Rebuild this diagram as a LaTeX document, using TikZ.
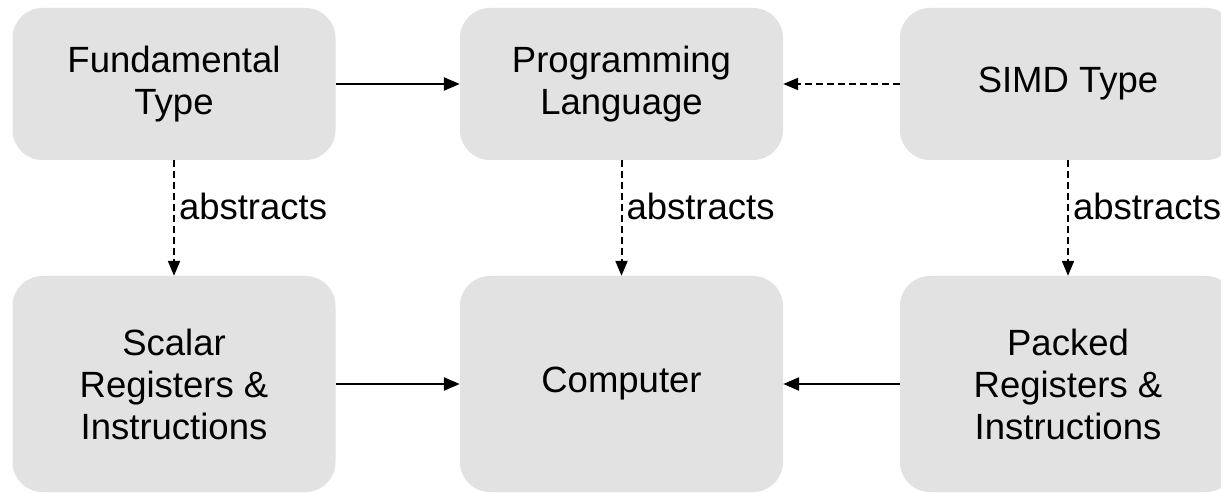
\documentclass[tikz,border=0pt]{standalone}
\usepackage{fontspec}
\setmainfont{Liberation Sans}
\usetikzlibrary{arrows.meta}
\definecolor{boxgray}{RGB}{225,226,225}
\tikzset{
    block/.style={fill=boxgray,rounded corners=30pt,minimum width=323pt,
        inner sep=0pt,align=center,font=\fontsize{36.5}{42}\selectfont},
    link/.style={line width=2.4pt,-{Triangle[length=16pt,width=13pt]}},
    weaklink/.style={line width=2pt,-{Triangle[length=15pt,width=12pt]},dash pattern=on 7pt off 4pt},
    tag/.style={right,inner sep=4pt,font=\fontsize{36.5}{42}\selectfont}
}
\begin{document}
\begin{tikzpicture}[x=1pt,y=-1pt]
        \fill[white] (0,0) rectangle (1221,494);
        \clip (0,0) rectangle (1221,494);
        % types (top row)
        \node[block,minimum height=152pt] (ftype) at (174,84) {Fundamental\\Type};
        \node[block,minimum height=152pt] (plang) at (621.5,84) {Programming\\Language};
        \node[block,minimum height=152pt,minimum width=336pt] (simd) at (1068,84) {SIMD Type};
        % hardware (bottom row)
        \node[block,minimum height=216pt] (scalar) at (174,384) {Scalar\\Registers \&\\Instructions};
        \node[block,minimum height=216pt] (comp) at (621.5,384) {Computer};
        \node[block,minimum height=216pt,minimum width=336pt] (packed) at (1068,384) {Packed\\Registers \&\\Instructions};
        % horizontal links
        \draw[link] (ftype) -- (plang);
        \draw[weaklink] (simd) -- (plang);
        \draw[link] (scalar) -- (comp);
        \draw[link] (packed) -- (comp);
        % abstraction links
        \draw[weaklink] (ftype) -- (scalar) node[tag,pos=0.4] {abstracts};
        \draw[weaklink] (plang) -- (comp) node[tag,pos=0.4] {abstracts};
        \draw[weaklink] (simd) -- (packed) node[tag,pos=0.4] {abstracts};
    \end{tikzpicture}
\end{document}
